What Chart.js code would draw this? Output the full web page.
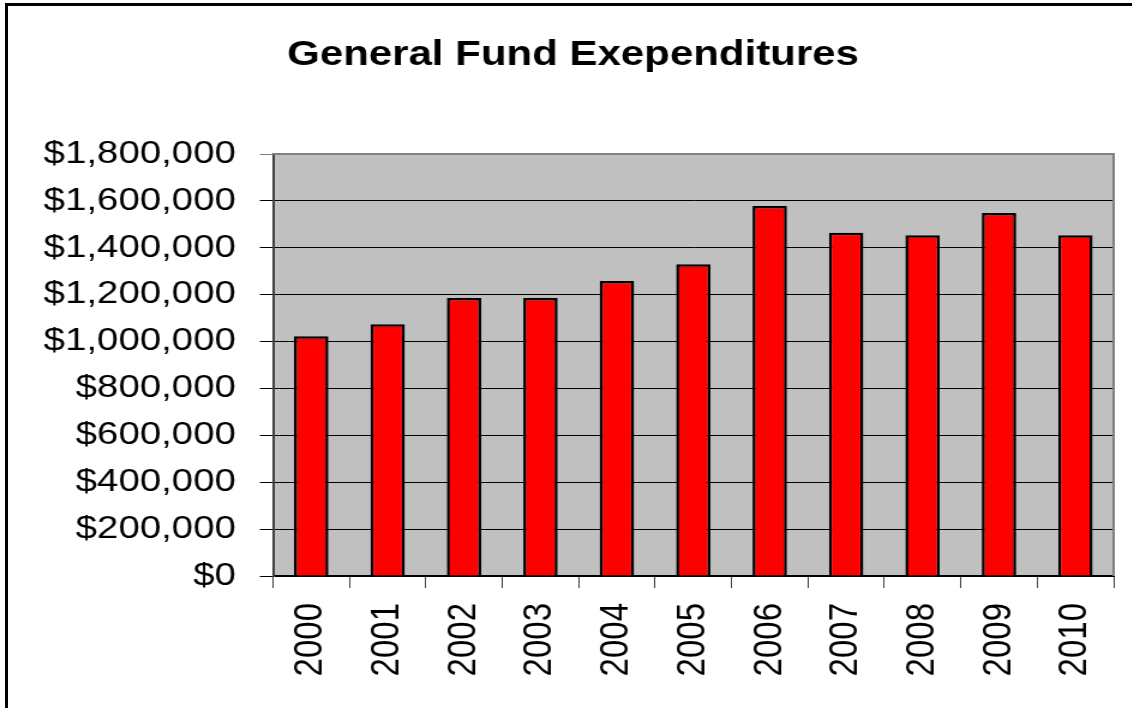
<!DOCTYPE html>
<html>
<head>
<meta charset="utf-8">
<title>General Fund Exependitures</title>
<script src="https://cdn.jsdelivr.net/npm/chart.js@4.4.1/dist/chart.umd.min.js"></script>
<style>
  html, body { margin: 0; padding: 0; background: #fff; overflow: hidden; }
  #wrap { position: relative; width: 1132px; height: 708px; }
  /* the original picture is stretched sideways, so the canvas is too */
  #myChart { position: absolute; left: 0; top: 0; transform: scaleX(1.2); transform-origin: 0 0; }
  .edge { position: absolute; background: #000; z-index: 2; }
</style>
</head>
<body>
<div id="wrap">
  <canvas id="myChart" width="943" height="708"></canvas>
  <div class="edge" style="left:5px; top:3px; width:3px; height:705px;"></div>
  <div class="edge" style="left:5px; top:3px; width:1127px; height:3px;"></div>
</div>
<script>
const years = ['2000', '2001', '2002', '2003', '2004', '2005', '2006', '2007', '2008', '2009', '2010'];
const expenditures = [1023000, 1074000, 1186000, 1186000, 1258000, 1330000, 1578000, 1464000, 1453000, 1548000, 1453000];
const yMax = 1800000;
const yStep = 200000;

const font = 'Liberation Sans, Arial, sans-serif';

// grey plot background with grey frame on top/right
const plotBg = {
  id: 'plotBg',
  beforeDraw(chart) {
    const { ctx, chartArea: a } = chart;
    ctx.save();
    ctx.fillStyle = '#C0C0C0';
    ctx.fillRect(a.left, a.top, a.right - a.left, a.bottom - a.top);
    ctx.restore();
  },
  afterDatasetsDraw(chart) {
    const { ctx, chartArea: a } = chart;
    ctx.save();
    ctx.strokeStyle = '#808080';
    ctx.lineWidth = 2;
    ctx.beginPath();
    ctx.moveTo(a.left, a.top);
    ctx.lineTo(a.right, a.top);
    ctx.lineTo(a.right, a.bottom);
    ctx.stroke();
    ctx.restore();
  }
};

const ctx = document.getElementById('myChart').getContext('2d');

new Chart(ctx, {
  type: 'bar',
  data: {
    labels: years,
    datasets: [{
      data: expenditures,
      backgroundColor: '#FF0000',
      borderColor: '#000000',
      borderWidth: 2.5,
      barPercentage: 0.45,
      categoryPercentage: 1
    }]
  },
  options: {
    responsive: false,
    animation: false,
    layout: { padding: { left: 12, right: 0, top: 0, bottom: 0 } },
    plugins: {
      legend: { display: false },
      tooltip: { enabled: false },
      title: {
        display: true,
        text: 'General Fund Exependitures',
        color: '#000',
        font: { family: font, size: 35, weight: 'bold' },
        padding: { top: 34, bottom: 78 }
      }
    },
    scales: {
      x: {
        afterFit(scale) {
          scale.height = 132;
          scale.paddingLeft = 0;
          scale.paddingRight = 15;
        },
        grid: {
          offset: true,
          drawOnChartArea: false,
          drawTicks: true,
          tickLength: 12,
          color: '#404040',
          lineWidth: 1
        },
        border: { color: '#000', width: 2 },
        ticks: {
          color: '#000',
          autoSkip: false,
          minRotation: 90,
          maxRotation: 90,
          padding: 15,
          font: { family: font, size: 33 }
        }
      },
      y: {
        min: 0,
        max: yMax,
        afterFit(scale) { scale.width = 215.5; },
        grid: {
          color: c => (c.tick && c.tick.value === yMax) ? '#808080' : '#000',
          lineWidth: 1,
          tickLength: 11
        },
        border: { color: '#404040', width: 2 },
        ticks: {
          stepSize: yStep,
          color: '#000',
          padding: 20,
          font: { family: font, size: 32 },
          callback: v => '$' + Number(v).toLocaleString('en-US')
        }
      }
    }
  },
  plugins: [plotBg]
});
</script>
</body>
</html>
